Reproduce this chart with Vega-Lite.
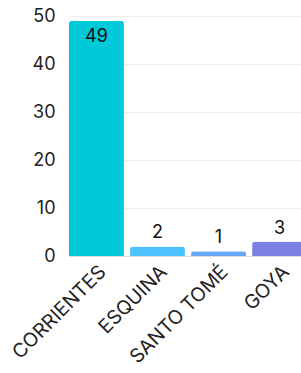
{
  "$schema": "https://vega.github.io/schema/vega-lite/v6.json",
  "autosize": "none",
  "padding": {"left": 69, "top": 16, "right": 0, "bottom": 117},
  "width": 238,
  "height": 240,
  "background": "white",
  "config": {
    "font": "Inter",
    "view": {"stroke": null},
    "axis": {"labelFont": "Inter", "labelFontSize": 18, "labelColor": "#222", "titleFont": "Inter"}
  },
  "data": {"values": [
    {"ciudad": "CORRIENTES", "valor": 49},
    {"ciudad": "ESQUINA", "valor": 2},
    {"ciudad": "SANTO TOMÉ", "valor": 1},
    {"ciudad": "GOYA", "valor": 3}
  ]},
  "encoding": {
    "x": {"field": "ciudad", "type": "nominal", "sort": null,
      "scale": {"paddingInner": 0.1, "paddingOuter": 0},
      "axis": {"title": null, "labelAngle": -45, "labelFontSize": 19.5, "ticks": false, "domain": true, "domainColor": "#ddd", "labelPadding": 6}},
    "y": {"field": "valor", "type": "quantitative",
      "scale": {"domain": [0, 50]},
      "axis": {"title": null, "values": [0, 10, 20, 30, 40, 50], "ticks": false, "domain": false, "gridColor": "#eeeeee", "labelPadding": 14}}
  },
  "layer": [
    {"mark": {"type": "bar", "cornerRadiusEnd": 3},
     "encoding": {"color": {"field": "ciudad", "type": "nominal", "sort": null, "legend": null,
       "scale": {"domain": ["CORRIENTES", "ESQUINA", "SANTO TOMÉ", "GOYA"], "range": ["#00C9D9", "#4DC4FF", "#66A8F5", "#7C80E2"]}}}},
    {"transform": [{"filter": "datum.valor >= 10"}],
     "mark": {"type": "text", "baseline": "top", "dy": 7, "fontSize": 18, "color": "#111"},
     "encoding": {"text": {"field": "valor"}}},
    {"transform": [{"filter": "datum.valor < 10"}],
     "mark": {"type": "text", "baseline": "bottom", "dy": -4, "fontSize": 18, "color": "#111"},
     "encoding": {"text": {"field": "valor"}}}
  ]
}
